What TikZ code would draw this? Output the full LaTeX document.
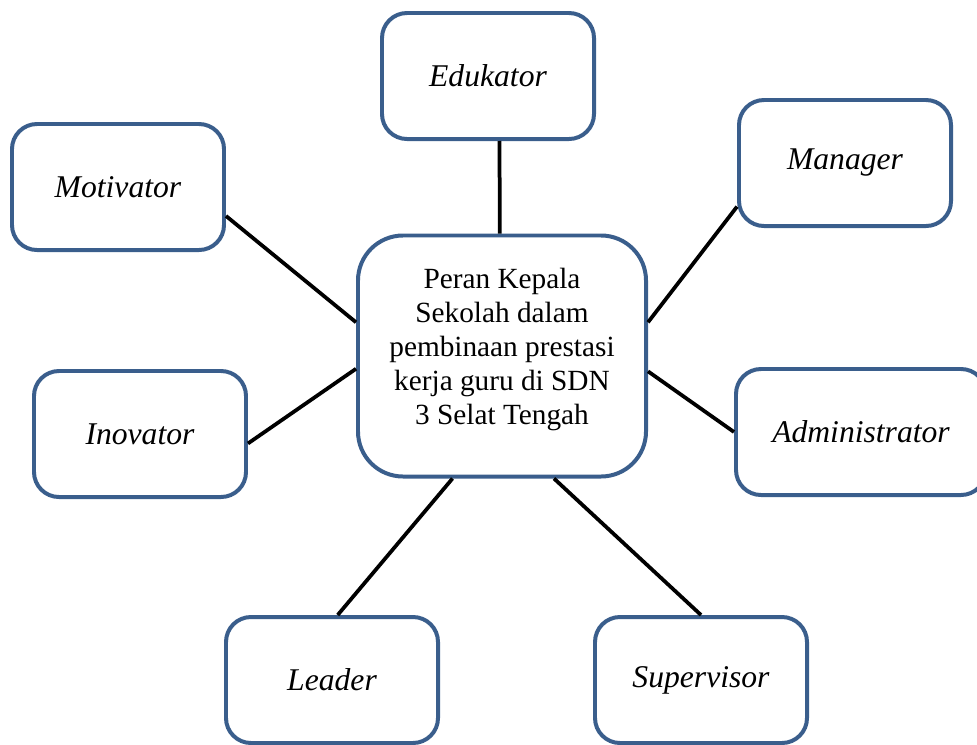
\documentclass[tikz,border=0pt]{standalone}
\usepackage{fontspec}
\setmainfont{Liberation Serif}
\usetikzlibrary{positioning}
\definecolor{boxblue}{RGB}{58,94,140}
\begin{document}
\begin{tikzpicture}[
            x=0.03cm, y=-0.03cm,
            role/.style={rectangle, rounded corners=0.75cm, draw=boxblue, line width=3.4pt, fill=white, minimum width=6.36cm, minimum height=3.78cm, font=\fontsize{27}{31}\selectfont\itshape},
            hub/.style={rectangle, rounded corners=1.35cm, draw=boxblue, line width=3.4pt, fill=white, minimum width=8.64cm, minimum height=7.23cm, align=center, font=\fontsize{25}{29}\selectfont},
            link/.style={line width=3.2pt}
        ]
            \useasboundingbox (0,0) rectangle (977,744);
            \node (cen) [hub] at (502,356) {Peran Kepala\\Sekolah dalam\\pembinaan prestasi\\kerja guru di SDN\\3 Selat Tengah\\[-12pt]\mbox{}};
            \node (edu) [role] at (488,76) {Edukator};
            \node (mot) [role] at (118,187) {Motivator};
            \node (man) [role] at (845,163) {Manager};
            \node (ino) [role] at (140,434) {Inovator};
            \node (adm) [role, minimum width=7.5cm] at (861,432) {Administrator};
            \node (lea) [role] at (332,680) {Leader};
            \node (sup) [role] at (701,680) {Supervisor};

            \draw[link] (edu.-80) -- (cen.91);
            \draw[link] (mot.-15) -- (cen.167);
            \draw[link] (man.-158) -- (cen.13);
            \draw[link] (ino.-5) -- (cen.-175);
            \draw[link] (adm.180) -- (cen.-6);
            \draw[link] (lea.85) -- (cen.-112);
            \draw[link] (sup.90) -- (cen.-67);
        \end{tikzpicture}
\end{document}
